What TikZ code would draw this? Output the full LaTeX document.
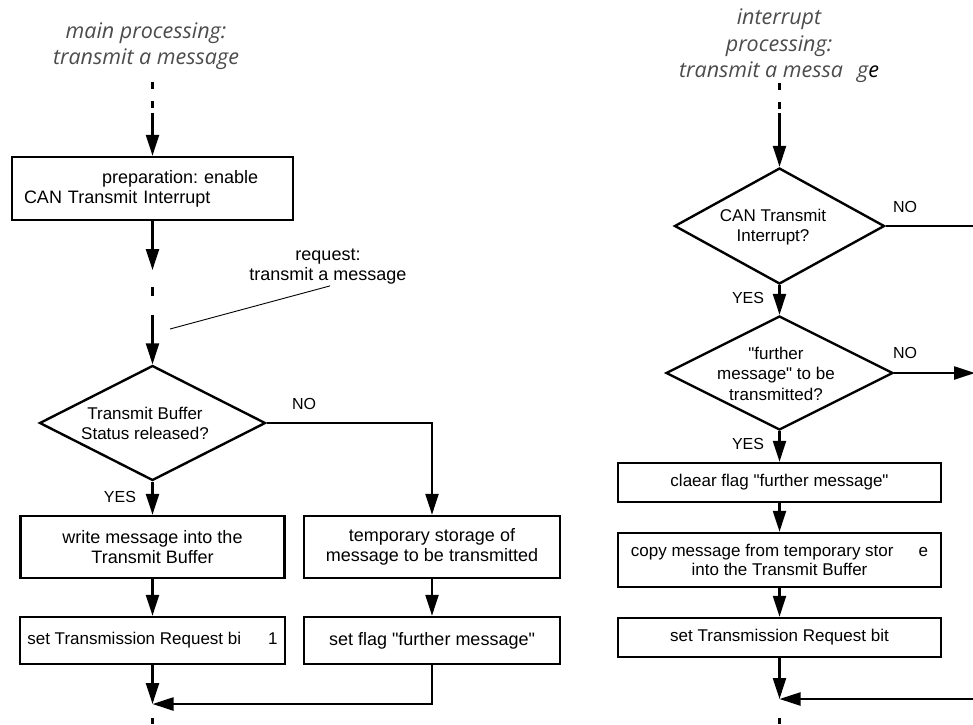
\documentclass[tikz,border=0pt]{standalone}
\usepackage{fontspec}
\setmainfont{Liberation Sans}[Ligatures=TeXOff]
\newfontfamily\titlefont{Open Sans}
\usetikzlibrary{arrows.meta,shapes.geometric}
\definecolor{titlegray}{gray}{0.3}
\frenchspacing
\begin{document}
\begin{tikzpicture}[x=1pt,y=-1pt,
  flowbox/.style={draw, line width=2.5pt, inner sep=0pt, align=center,
    font=\fontsize{18}{20}\selectfont},
  rbox/.style={flowbox, font=\fontsize{17}{19}\selectfont},
  decision/.style={diamond, draw, line width=2.4pt, inner sep=0pt},
  dtext/.style={align=center, inner sep=0pt, font=\fontsize{17}{20.5}\selectfont},
  flow/.style={line width=2.3pt, -{Triangle[length=21pt,width=13pt]}},
  plain/.style={line width=2.3pt},
  broken/.style={line width=2.3pt, dash pattern=on 7pt off 12pt},
  caption/.style={inner sep=0pt, font=\fontsize{16}{18}\selectfont},
  heading/.style={align=center, inner sep=0pt, text=titlegray,
    font=\titlefont\itshape\fontsize{21.5}{26.5}\selectfont},
  leader/.style={line width=0.9pt}
]
\useasboundingbox (0,0) rectangle (973,724);

% ---------------- main processing ----------------
\node[heading] (tL) at (146,46) {main processing:\\transmit a message};
\coordinate (tLa) at (152.5,82);
\coordinate (tLb) at (152.5,113);
\draw[broken] (tLa) -- (tLb);

\node[flowbox, minimum width=281, minimum height=63, text width=257, align=left]
  (b1) at (152.5,188.5) {\hspace*{78pt}preparation: enable\\CAN Transmit Interrupt};
\draw[flow] (tLb) -- (b1.north);

\coordinate (q1) at (152.5,270);
\coordinate (q2) at (152.5,287);
\coordinate (q3) at (152.5,296);
\coordinate (q4) at (152.5,315);
\draw[flow] (b1.south) -- (q1);
\draw[plain] (q2) -- (q3);

\node[inner sep=1pt, align=center, font=\fontsize{18}{20}\selectfont]
  (req) at (328,267) {request:\\transmit a message};
\coordinate (reqPt) at (170,329);
\draw[leader] ([xshift=2pt]req.south) -- (reqPt);

\node[decision, minimum width=226, minimum height=115] (d1) at (152.5,423) {};
\node[dtext] (d1t) at (145,423.5) {Transmit Buffer\\Status released?};
\draw[flow] (q4) -- (d1.north);

\node[flowbox, minimum width=264, minimum height=62] (b2) at (152.5,547)
  {write message into the\\Transmit Buffer};
\node[flowbox, minimum width=256, minimum height=62] (b3) at (432,547)
  {temporary storage of\\message to be transmitted};
\draw[flow] (d1.south) -- (b2.north);
\draw[flow] (d1.east) -| (b3.north);
\node[caption] (noL) at (304,404) {NO};
\node[caption] (yesL) at (120,497) {YES};

\node[flowbox, minimum width=265, minimum height=47,
  font=\fontsize{17}{19}\selectfont] (b4) at (152.5,640.5)
  {set Transmission Request bi\hspace{27pt}1};
\node[flowbox, minimum width=256, minimum height=47] (b5) at (432,640.5)
  {set flag "further message"};
\draw[flow] (b2.south) -- (b4.north);
\draw[flow] (b3.south) -- (b5.north);

\coordinate (mL) at (152.5,704);
\coordinate (eL1) at (152.5,718);
\coordinate (eL2) at (152.5,724);
\draw[flow] (b4.south) -- (mL);
\draw[flow] (b5.south) |- (mL);
\draw[plain] (eL1) -- (eL2);

% ---------------- interrupt processing ----------------
\node[heading] (tR) at (779,46)
  {interrupt\\processing:\\transmit a messa\hspace{14pt}g{\color{black}e}};
\coordinate (tRa) at (779.5,83);
\coordinate (tRb) at (779.5,113);
\draw[broken] (tRa) -- (tRb);

\node[decision, minimum width=210, minimum height=116] (d2) at (779.5,226) {};
\node[dtext] (d2t) at (773,227) {CAN Transmit\\Interrupt?};
\draw[flow] (tRb) -- (d2.north);
\coordinate (noR1) at (976,226);
\draw[plain] (d2.east) -- (noR1);
\node[caption] (noR1t) at (905,207) {NO};

\node[decision, minimum width=227, minimum height=114] (d3) at (779.5,373) {};
\node[dtext] (d3t) at (776,373.5) {"further\\message" to be\\transmitted?};
\draw[flow] (d2.south) -- (d3.north);
\node[caption] (yesR1) at (748,298) {YES};
\coordinate (noR2) at (975,373);
\draw[flow] (d3.east) -- (noR2);
\node[caption] (noR2t) at (905,353) {NO};

\node[rbox, minimum width=323, minimum height=39] (r1) at (779.5,482.5)
  {claear flag "further message"};
\draw[flow] (d3.south) -- (r1.north);
\node[caption] (yesR2) at (748,444) {YES};

\node[rbox, minimum width=323, minimum height=54] (r2) at (779.5,560)
  {copy message from temporary stor\hspace{25pt}e\\into the Transmit Buffer};
\draw[flow] (r1.south) -- (r2.north);

\node[rbox, minimum width=323, minimum height=39] (r3) at (779.5,637.5)
  {set Transmission Request bit};
\draw[flow] (r2.south) -- (r3.north);

\coordinate (mR) at (779.5,699);
\coordinate (inR) at (976,699);
\coordinate (eR1) at (779.5,718);
\coordinate (eR2) at (779.5,724);
\draw[flow] (r3.south) -- (mR);
\draw[flow] (inR) -- (mR);
\draw[plain] (eR1) -- (eR2);
\end{tikzpicture}
\end{document}
